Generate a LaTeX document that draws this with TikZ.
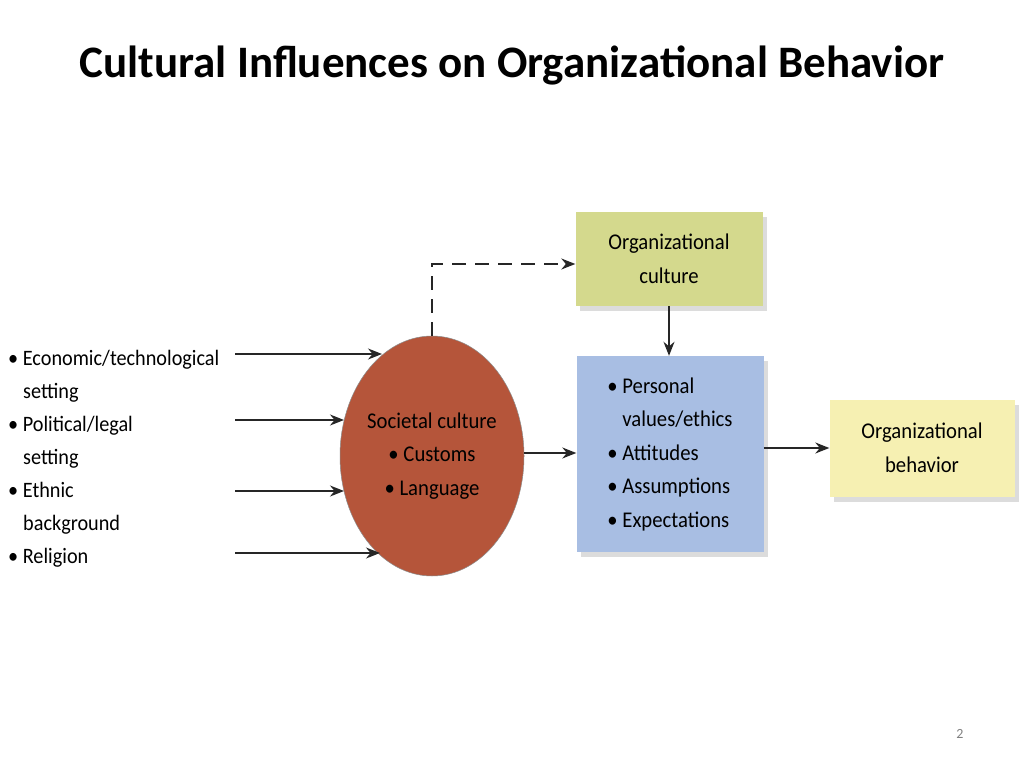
\documentclass[tikz,border=0pt]{standalone}
\usepackage{fontspec}
\setmainfont{Carlito}
\newfontfamily\diagfont[FakeStretch=0.92]{Carlito}
\usetikzlibrary{arrows.meta,shadows,shapes.geometric}
\begin{document}
\begin{tikzpicture}[x=1pt,y=-1pt,
  conn/.style={draw=black!85,line width=1.4pt,-{Stealth[length=14pt,width=11pt]}},
  boxstyle/.style={draw=none,minimum width=187pt,align=center,font=\diagfont\fontsize{22.5}{33.5}\selectfont,
     drop shadow={shadow xshift=4pt,shadow yshift=-5pt,opacity=0.3,fill=black!45}},
  lefttxt/.style={anchor=base west,font=\diagfont\fontsize{22}{33}\selectfont,inner sep=0pt}]
\useasboundingbox (0,0) rectangle (1024,767);
\fill[white] (0,0) rectangle (1024,767);
\node[font=\bfseries\fontsize{45}{48}\selectfont,anchor=base] (title) at (512,78) {Cultural Influences on Organizational Behavior};

% ellipse
\node[ellipse,draw=black!45,line width=0.5pt,fill={rgb,255:red,181;green,85;blue,58},minimum width=184pt,minimum height=240pt,
  align=center,font=\diagfont\fontsize{22.5}{33.5}\selectfont,inner sep=0pt] (soc) at (432,456)
  {Societal culture\\ \textbullet~Customs\\ \textbullet~Language};

\node[boxstyle,fill={rgb,255:red,212;green,217;blue,141},minimum height=94pt] (oc) at (669,259)
  {Organizational\\culture};
\node[boxstyle,fill={rgb,255:red,168;green,190;blue,227},minimum height=196pt,align=left] (pers) at (670,454)
  {\textbullet~Personal\\\phantom{\textbullet~}values/ethics\\\textbullet~Attitudes\\\textbullet~Assumptions\\\textbullet~Expectations};
\node[boxstyle,fill={rgb,255:red,246;green,240;blue,178},minimum width=185pt,minimum height=97pt] (ob) at (922,448)
  {Organizational\\behavior};

% left text
\node[lefttxt] (l1) at (8,365) {\textbullet~Economic/technological};
\node[lefttxt] (l1b) at (23,398) {setting};
\node[lefttxt] (l2) at (8,431) {\textbullet~Political/legal};
\node[lefttxt] (l2b) at (23,464) {setting};
\node[lefttxt] (l3) at (8,497) {\textbullet~Ethnic};
\node[lefttxt] (l3b) at (23,530) {background};
\node[lefttxt] (l4) at (8,563) {\textbullet~Religion};

\coordinate (a1) at (235,354);
\coordinate (a2) at (235,420);
\coordinate (a3) at (235,491);
\coordinate (a4) at (235,553);
\coordinate (e1) at (382,354);
\coordinate (e2) at (344,420);
\coordinate (e3) at (344,491);
\coordinate (e4) at (380,553);
\draw[conn] (a1) -- (e1);
\draw[conn] (a2) -- (e2);
\draw[conn] (a3) -- (e3);
\draw[conn] (a4) -- (e4);

\draw[conn,dashed,dash pattern=on 14pt off 9pt] (soc.north) |- ([yshift=-5pt]oc.west);
\draw[conn] (oc.south) -- (oc.south |- pers.north);
\draw[conn] ([yshift=3pt]soc.east) -- ([yshift=3pt]soc.east -| pers.west);
\draw[conn] (pers.east |- ob.west) -- (ob.west);

\node[text=black!50,font=\fontsize{14}{16}\selectfont] (pg) at (960,734) {2};
\end{tikzpicture}
\end{document}
